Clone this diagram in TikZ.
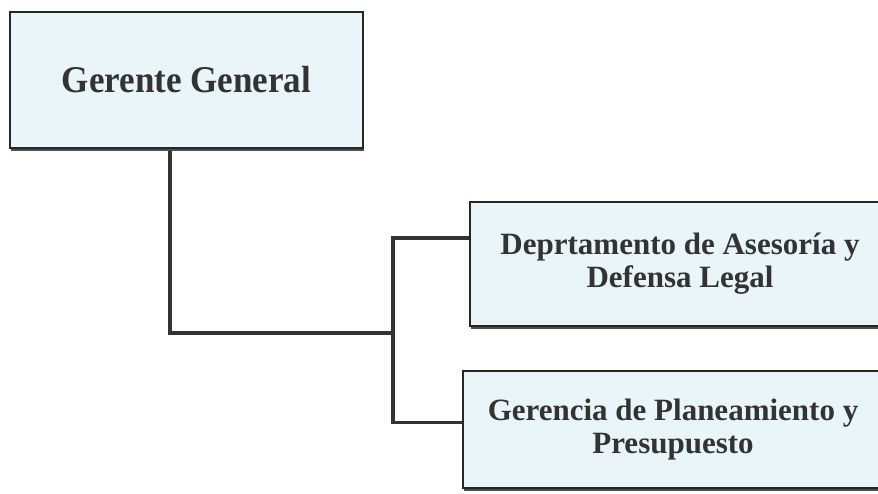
\documentclass[tikz,border=0pt]{standalone}
\usepackage{fontspec}
\setmainfont{Liberation Serif}
\usetikzlibrary{calc,backgrounds}
\begin{document}
\begin{tikzpicture}[x=1pt,y=-1pt,
  orgbox/.style={draw=black!85, line width=1.6pt, fill=boxblue,
    rectangle, inner sep=0pt, align=center, text=black!80,
    font=\bfseries\fontsize{31}{33}\selectfont,
    preaction={fill=black!70, transform canvas={xshift=0.6pt, yshift=-2.6pt}}},
  conn/.style={draw=black!80, line width=3.8pt, line cap=rect}
]
\definecolor{boxblue}{HTML}{E9F5F9}
\useasboundingbox (0,0) rectangle (878,494);
\clip (0,0) rectangle (878,494);

% boxes
\node[orgbox, minimum width=353pt, minimum height=136pt,
      font=\bfseries\fontsize{35}{38}\selectfont] (g) at (186.5,80)
  {\scalebox{1}[1.08]{Gerente General}};
\node[orgbox, minimum width=420pt, minimum height=124pt] (d) at (680,264)
  {Deprtamento de Asesoría y\\Defensa Legal};
\node[orgbox, minimum width=420pt, minimum height=117pt] (p) at (673,429.5)
  {Gerencia de Planeamiento y\\Presupuesto};

% connector points
\coordinate (trunk) at ($(g.south west)+(161,0)$);
\coordinate (j) at (393,333);
\coordinate (dIn) at ($(d.west)+(0,-26)$);
\coordinate (pIn) at ($(p.west)+(0,-7)$);

% connectors, kept behind the boxes
\begin{scope}[on background layer]
\draw[conn] (trunk) |- (j);
\draw[conn] (dIn) -| (j) |- (pIn);
\end{scope}
\end{tikzpicture}
\end{document}
